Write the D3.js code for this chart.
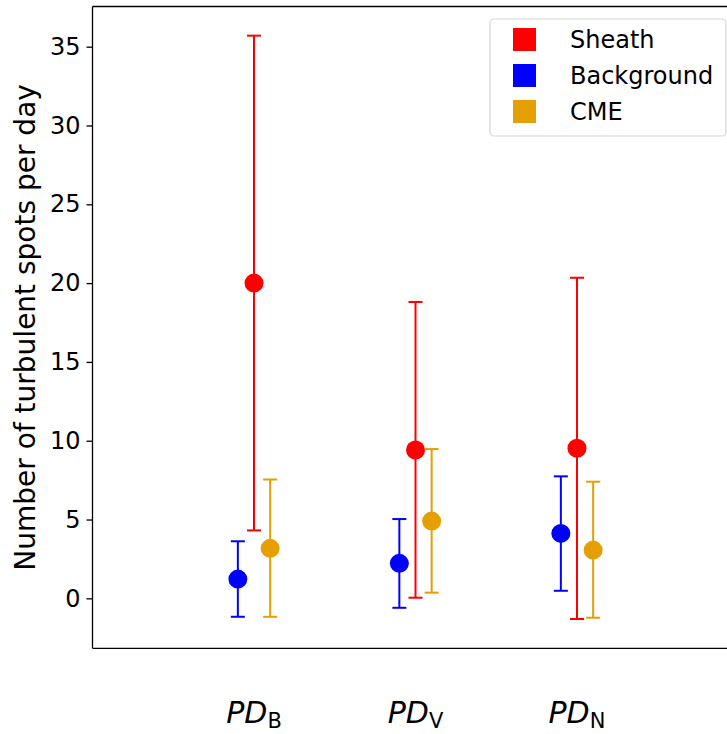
<!DOCTYPE html>
<html><head><meta charset="utf-8">
<script src="https://cdn.jsdelivr.net/npm/d3@7"></script>
<style>body{margin:0;background:#fff}svg{display:block;font-family:"DejaVu Sans",sans-serif}</style>
</head><body><svg id="c" width="727" height="734"></svg>
<script>
const categories = ["B", "V", "N"];
const seriesNames = ["Sheath", "Background", "CME"];
const seriesColors = ["#ff0000", "#0000ff", "#e69f00"];
const sheathMean = [20.0, 9.41, 9.52];
const sheathLow = [4.31, 0.04, -1.31];
const sheathHigh = [35.70, 18.8, 20.34];
const bgMean = [1.22, 2.22, 4.12];
const bgLow = [-1.17, -0.6, 0.48];
const bgHigh = [3.62, 5.03, 7.74];
const cmeMean = [3.17, 4.9, 3.06];
const cmeLow = [-1.17, 0.36, -1.23];
const cmeHigh = [7.54, 9.47, 7.40];
const yTicks = [0, 5, 10, 15, 20, 25, 30, 35];
const offsets = [0, -0.1, 0.1];

const svg = d3.select("#c");
const x = d3.scaleLinear().domain([0, 4]).range([92.5, 738.5]);
const y = d3.scaleLinear().domain([-3.17, 37.55]).range([648.3, 6.5]);

const series = [
  {mean: sheathMean, low: sheathLow, high: sheathHigh},
  {mean: bgMean, low: bgLow, high: bgHigh},
  {mean: cmeMean, low: cmeLow, high: cmeHigh}
];

// error bars
series.forEach((s, si) => {
  const g = svg.append("g");
  const col = seriesColors[si];
  categories.forEach((c, i) => {
    const cx = x(i + 1 + offsets[si]);
    g.append("line").attr("x1", cx).attr("x2", cx).attr("y1", y(s.low[i])).attr("y2", y(s.high[i]))
      .attr("stroke", col).attr("stroke-width", 2);
    [s.low[i], s.high[i]].forEach(v => {
      g.append("line").attr("x1", cx - 7).attr("x2", cx + 7).attr("y1", y(v)).attr("y2", y(v))
        .attr("stroke", col).attr("stroke-width", 2);
    });
    g.append("circle").attr("cx", cx).attr("cy", y(s.mean[i])).attr("r", 9.5).attr("fill", col);
  });
});

// y axis
const yAxis = d3.axisLeft(y).tickValues(yTicks).tickSize(6).tickPadding(6).tickFormat(d3.format("d"));
const ga = svg.append("g").attr("transform", `translate(${x(0)},0)`).call(yAxis);
ga.select(".domain").remove();
ga.selectAll(".tick line").attr("stroke", "#000").attr("stroke-width", 1.3);
ga.selectAll(".tick text").attr("font-size", 24).attr("font-family", "DejaVu Sans").attr("fill", "#000");

// spines
svg.append("line").attr("x1", x(0)).attr("x2", x(0)).attr("y1", y.range()[1]).attr("y2", y.range()[0]).attr("stroke", "#000").attr("stroke-width", 1.3);
svg.append("line").attr("x1", x(0)).attr("x2", x(4)).attr("y1", y.range()[1]).attr("y2", y.range()[1]).attr("stroke", "#000").attr("stroke-width", 1.3);
svg.append("line").attr("x1", x(0)).attr("x2", x(4)).attr("y1", y.range()[0]).attr("y2", y.range()[0]).attr("stroke", "#000").attr("stroke-width", 1.3);
svg.append("line").attr("x1", x(4)).attr("x2", x(4)).attr("y1", y.range()[1]).attr("y2", y.range()[0]).attr("stroke", "#000").attr("stroke-width", 1.3);

// x labels
categories.forEach((c, i) => {
  const t = svg.append("text").attr("x", x(i + 1)).attr("y", 723).attr("text-anchor", "middle").attr("fill", "#000");
  t.append("tspan").attr("font-style", "italic").attr("font-size", 30).text("PD");
  t.append("tspan").attr("font-size", 21).attr("dy", 5).text(c);
});

// y label
svg.append("text").attr("transform", `translate(35,${(y.range()[0] + y.range()[1]) / 2}) rotate(-90)`)
  .attr("text-anchor", "middle").attr("font-size", 28).attr("fill", "#000").text("Number of turbulent spots per day");

// legend
const lg = svg.append("g");
lg.append("rect").attr("x", 490).attr("y", 19).attr("width", 236).attr("height", 117).attr("rx", 4)
  .attr("fill", "#fff").attr("fill-opacity", 0.8).attr("stroke", "#d6d6d6").attr("stroke-width", 1.2);
seriesNames.forEach((n, i) => {
  const cy = 39.5 + i * 36;
  lg.append("rect").attr("x", 513).attr("y", cy - 11.5).attr("width", 23).attr("height", 23).attr("fill", seriesColors[i]);
  lg.append("text").attr("x", 570).attr("y", cy + 8.5).attr("font-size", 24).attr("fill", "#000").text(n);
});
</script></body></html>
